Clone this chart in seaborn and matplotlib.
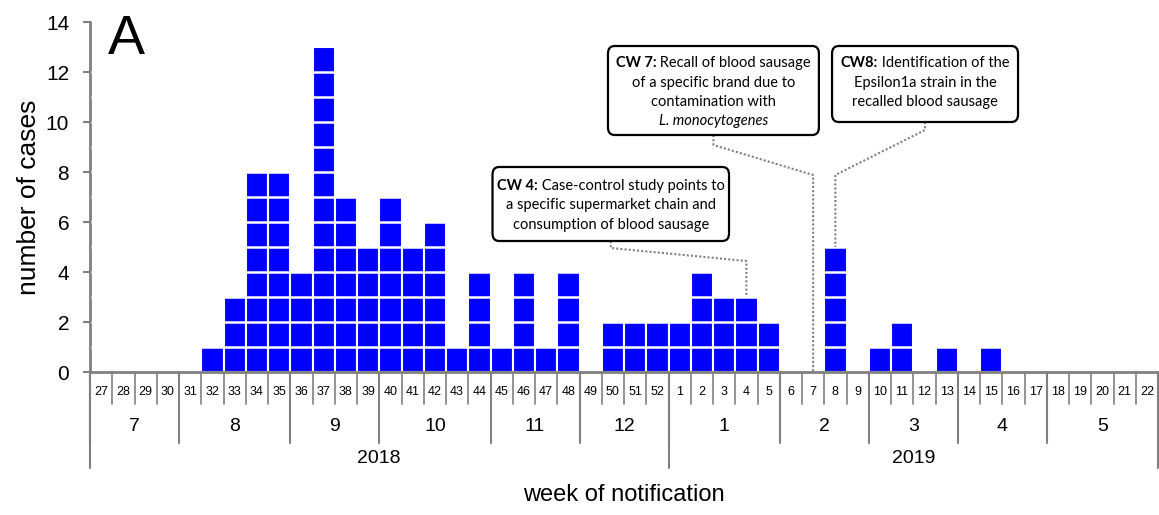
import numpy as np
import pandas as pd
import matplotlib
matplotlib.use("Agg")
import matplotlib.pyplot as plt
import seaborn as sns
from matplotlib.patches import FancyBboxPatch

# week labels (2018: CW 27-52, 2019: CW 1-22)
week_labels = ['27', '28', '29', '30', '31', '32', '33', '34', '35', '36', '37', '38', '39',
               '40', '41', '42', '43', '44', '45', '46', '47', '48', '49', '50', '51', '52',
               '1', '2', '3', '4', '5', '6', '7', '8', '9', '10', '11', '12', '13', '14',
               '15', '16', '17', '18', '19', '20', '21', '22']
cases = [0, 0, 0, 0, 0, 1, 3, 8, 8, 4, 13, 7, 5,
         7, 5, 6, 1, 4, 1, 4, 1, 4, 0, 2, 2, 2,
         2, 4, 3, 3, 2, 0, 0, 5, 0, 1, 2, 0, 1, 0,
         1, 0, 0, 0, 0, 0, 0, 0]

month_labels = ['7', '8', '9', '10', '11', '12', '1', '2', '3', '4', '5']
weeks_per_month = [4, 5, 4, 5, 4, 4, 5, 4, 4, 4, 5]
year_labels = ['2018', '2019']
weeks_per_year = [26, 22]

# annotations: week in 2019, bold prefix, text lines
notes = [
    ('4', 'CW 4:', [' Case-control study points to',
                    'a specific supermarket chain and',
                    'consumption of blood sausage']),
    ('7', 'CW 7:', [' Recall of blood sausage',
                    'of a specific brand due to',
                    'contamination with',
                    'L. monocytogenes']),
    ('8', 'CW8:', [' Identification of the',
                   'Epsilon1a strain in the',
                   'recalled blood sausage']),
]

df = pd.DataFrame({'week': week_labels, 'cases': cases})

sns.set_style('white')
plt.rcParams['font.family'] = ['Liberation Sans', 'DejaVu Sans']
plt.rcParams['text.color'] = 'black'
plt.rcParams['axes.labelcolor'] = 'black'
plt.rcParams['ytick.labelcolor'] = 'black'

fig = plt.figure(figsize=(11.59, 5.15), dpi=100)
ax = fig.add_axes([90 / 1159, 1 - 372 / 515, 1068 / 1159, 350 / 515])

sns.barplot(data=df, x='week', y='cases', order=week_labels, color='#0000FF',
            saturation=1, width=1, edgecolor='white', linewidth=1.5, ax=ax)
# white separators between individual cases
ax.hlines(np.arange(1, max(cases)), -0.45, len(week_labels) - 0.5,
          colors='white', lw=1.8, zorder=3)

n = len(week_labels)
ax.set_xlim(-0.5, n - 0.5)
ax.set_ylim(0, 14)
ax.set_yticks(np.arange(0, 15, 2))
ax.set_xticks([])
ax.set_xlabel('')
ax.set_ylabel('number of cases', fontsize=19)
ax.yaxis.set_label_coords(-0.046, 0.5)
ax.tick_params(axis='y', labelsize=15, length=5, width=1.5, color='#808080', pad=10,
               left=True)
for s in ['top', 'right']:
    ax.spines[s].set_visible(False)
for s in ['left', 'bottom']:
    ax.spines[s].set_color('#808080')
    ax.spines[s].set_linewidth(2)

# hierarchical x axis: weeks / months / years
gray = '#808080'
tr = ax.get_xaxis_transform()
y_week, y_month, y_year = -0.09, -0.203, -0.274
for i in range(n + 1):
    ax.plot([i - 0.5, i - 0.5], [0, y_week], color=gray, lw=1.2, transform=tr, clip_on=False)
for i, lab in enumerate(week_labels):
    ax.text(i, -0.057, lab, ha='center', va='center', fontsize=9, transform=tr)

start = 0
for lab, w in zip(month_labels, weeks_per_month):
    ax.plot([start - 0.5, start - 0.5], [0, y_month], color=gray, lw=1.5, transform=tr, clip_on=False)
    ax.text(start + (w - 1) / 2, -0.157, lab, ha='center', va='center', fontsize=14, transform=tr)
    start += w

start = 0
for lab, w in zip(year_labels, weeks_per_year):
    ax.plot([start - 0.5, start - 0.5], [0, y_year], color=gray, lw=1.5, transform=tr, clip_on=False)
    ax.text(start + (w - 1) / 2, -0.246, lab, ha='center', va='center', fontsize=14, transform=tr)
    start += w
ax.plot([n - 0.5, n - 0.5], [0, y_year], color=gray, lw=1.5, transform=tr, clip_on=False)

ax.text(0.5, -0.351, 'week of notification', ha='center', va='center', fontsize=17,
        transform=ax.transAxes)
ax.text(0.017, 0.909, 'A', fontsize=40, transform=ax.transAxes, va='baseline')

# annotation boxes (layout in data units), connector anchors
boxes = [
    dict(x0=17.59, x1=28.22, y0=5.24, y1=8.2, lines_y=[7.44, 6.68, 5.88],
         bend=[4.96, 4.44]),
    dict(x0=22.78, x1=32.26, y0=9.48, y1=13.04, lines_y=[12.36, 11.56, 10.8, 10.04],
         bend=[9.08, 7.88]),
    dict(x0=32.85, x1=41.21, y0=10.0, y1=13.04, lines_y=[12.36, 11.56, 10.8],
         bend=[9.68, 7.88]),
]
fig.canvas.draw()
renderer = fig.canvas.get_renderer()
inv = ax.transData.inverted()
week_pos = {lab: i for i, lab in enumerate(week_labels[26:], start=26)}
fs = 10.5
for (wk, bold, lines), b in zip(notes, boxes):
    cx = (b['x0'] + b['x1']) / 2
    ax.add_patch(FancyBboxPatch((b['x0'], b['y0']), b['x1'] - b['x0'], b['y1'] - b['y0'],
                                boxstyle='round,pad=0,rounding_size=0.3', fc='white',
                                ec='black', lw=1.6, zorder=5, clip_on=False))
    # first line: bold prefix + regular text, centred together
    t1 = ax.text(cx, b['lines_y'][0], bold, ha='left', va='center', fontsize=fs,
                 family='Lato', weight='bold', zorder=6)
    t2 = ax.text(cx, b['lines_y'][0], lines[0], ha='left', va='center', fontsize=fs,
                 family='Lato', zorder=6)
    w1 = t1.get_window_extent(renderer).width
    w2 = t2.get_window_extent(renderer).width
    px_c = ax.transData.transform((cx, b['lines_y'][0]))
    left = inv.transform((px_c[0] - (w1 + w2) / 2, px_c[1]))[0]
    mid = inv.transform((px_c[0] - (w1 + w2) / 2 + w1, px_c[1]))[0]
    t1.set_x(left)
    t2.set_x(mid)
    for ly, line in zip(b['lines_y'][1:], lines[1:]):
        style = 'italic' if line.startswith('L. mono') else 'normal'
        ax.text(cx, ly, line, ha='center', va='center', fontsize=fs, family='Lato',
                style=style, zorder=6)
    xi = week_pos[wk]
    top = cases[xi]
    ax.plot([cx, cx, xi, xi], [b['y0'], b['bend'][0], b['bend'][1], top],
            color=gray, lw=1.5, ls=(0, (1, 1)), zorder=4, clip_on=False)

fig.savefig('out.png', dpi=100)
